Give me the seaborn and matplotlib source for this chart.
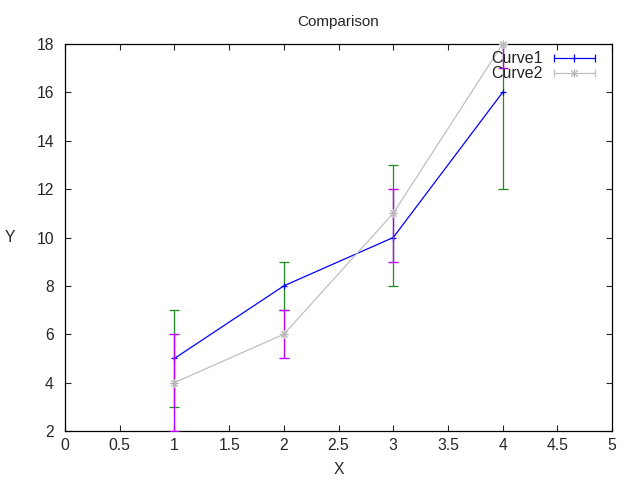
import pandas as pd
import seaborn as sns
import matplotlib.pyplot as plt
from matplotlib.lines import Line2D
from matplotlib.legend_handler import HandlerTuple, HandlerLine2D

# values
x_vals = [1, 2, 3, 4]
curve1_y = [5, 8, 10, 16]
curve1_low = [3, 7, 8, 12]
curve1_high = [7, 9, 13, 20]
curve2_y = [4, 6, 11, 18]
curve2_low = [2, 5, 9, 17]
curve2_high = [6, 7, 12, 19]

x_ticks = [0, 0.5, 1, 1.5, 2, 2.5, 3, 3.5, 4, 4.5, 5]
y_ticks = [2, 4, 6, 8, 10, 12, 14, 16, 18]

df1 = pd.DataFrame({"X": x_vals, "Y": curve1_y})
df2 = pd.DataFrame({"X": x_vals, "Y": curve2_y})

sns.set_theme(style="ticks", rc={
    "xtick.direction": "in",
    "ytick.direction": "in",
    "xtick.top": True,
    "ytick.right": True,
    "xtick.major.size": 4,
    "ytick.major.size": 4,
    "xtick.major.width": 0.8,
    "ytick.major.width": 0.8,
    "axes.linewidth": 0.9,
    "axes.edgecolor": "black",
})
plt.rcParams["font.family"] = ["Liberation Sans", "DejaVu Sans"]

fig = plt.figure(figsize=(6.4, 4.8), dpi=100)
ax = fig.add_axes([0.1016, 0.1021, 0.8547, 0.8062])

asterisk = (8, 2, 0)

# Curve1: error bars then line
ax.errorbar(x_vals, curve1_y,
            yerr=[[y - lo for y, lo in zip(curve1_y, curve1_low)],
                  [hi - y for y, hi in zip(curve1_y, curve1_high)]],
            fmt="none", ecolor="#1e8c1e", elinewidth=0.9, capsize=3.5,
            capthick=0.9, zorder=2)
sns.lineplot(data=df1, x="X", y="Y", ax=ax, color="#0000ff", linewidth=0.9,
             marker="+", markersize=5, markeredgewidth=0.9,
             markeredgecolor="#0000ff", legend=False, zorder=3)
ax.lines[-1].set_clip_on(False)

# Curve2: error bars then line
ax.errorbar(x_vals, curve2_y,
            yerr=[[y - lo for y, lo in zip(curve2_y, curve2_low)],
                  [hi - y for y, hi in zip(curve2_y, curve2_high)]],
            fmt="none", ecolor="#c000ff", elinewidth=1.0, capsize=3.5,
            capthick=1.0, zorder=4)
sns.lineplot(data=df2, x="X", y="Y", ax=ax, color="#c0c0c0", linewidth=0.9,
             marker=asterisk, markersize=6, markeredgewidth=0.7,
             markeredgecolor="#b8b8b8", legend=False, zorder=5)
ax.lines[-1].set_clip_on(False)

ax.set_xlim(0, 5)
ax.set_ylim(2, 18)
ax.set_xticks(x_ticks)
ax.set_xticklabels(["0", "0.5", "1", "1.5", "2", "2.5", "3", "3.5", "4", "4.5", "5"])
ax.set_yticks(y_ticks)
ax.tick_params(axis="x", labelsize=11.3, pad=5)
ax.tick_params(axis="y", labelsize=11.3, pad=8)

ax.set_title("Comparison", fontsize=11, pad=13)
ax.set_xlabel("X", fontsize=11.3)
ax.set_ylabel("Y", fontsize=11.3, rotation=0)
ax.xaxis.set_label_coords(0.5, -0.08)
ax.yaxis.set_label_coords(-0.1, 0.5)
ax.yaxis.label.set_va("center")

# gnuplot-like key: text first, then line with caps and point
cap1 = Line2D([], [], color="#0000ff", lw=0.9, marker="|", markersize=6, markeredgewidth=0.9)
pt1 = Line2D([], [], color="#0000ff", lw=0, marker="|", markersize=6, markeredgewidth=0.9)
cap2 = Line2D([], [], color="#c0c0c0", lw=0.9, marker="|", markersize=6, markeredgewidth=0.9)
pt2 = Line2D([], [], color="#c0c0c0", lw=0, marker=asterisk, markersize=6,
             markeredgewidth=0.7, markeredgecolor="#b8b8b8")
ax.legend([(cap1, pt1), (cap2, pt2)], ["Curve1", "Curve2"],
          handler_map={tuple: HandlerTuple(ndivide=1),
                       pt1: HandlerLine2D(numpoints=1),
                       pt2: HandlerLine2D(numpoints=1)},
          numpoints=2, markerfirst=False, frameon=False, fontsize=11.5,
          handlelength=3.2, handletextpad=0.4, labelspacing=0.0,
          borderpad=0, borderaxespad=0, loc="upper right",
          bbox_to_anchor=(0.9374, 0.893), bbox_transform=fig.transFigure)

fig.savefig("out.png", dpi=100)
